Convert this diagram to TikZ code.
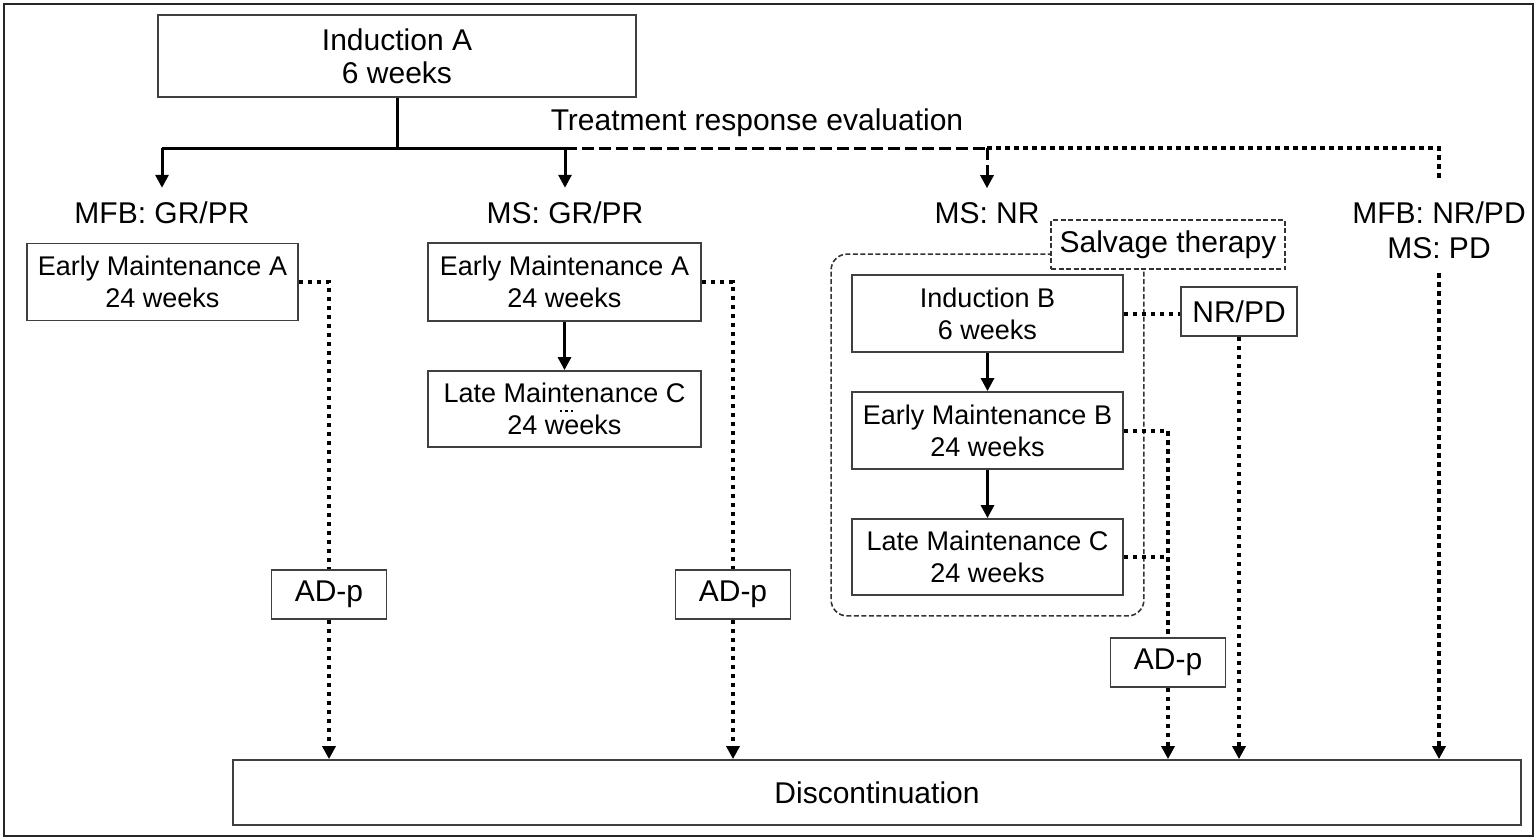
\documentclass[tikz,border=0pt]{standalone}
\usepackage{fontspec}
\setmainfont{Liberation Sans}
\usetikzlibrary{arrows.meta,fit}

\begin{document}
\begin{tikzpicture}[x=1pt,y=-1pt,
    box/.style={draw=black!75, line width=1.8pt, fill=white, align=center, inner sep=0pt, font=\fontsize{27}{32}\selectfont},
    bigbox/.style={box, font=\fontsize{30}{33}\selectfont},
    lab/.style={align=center, inner xsep=2pt, inner ysep=14pt, font=\fontsize{30}{35}\selectfont},
    tip/.style={-{Triangle[width=13pt,length=13pt]}},
    thickline/.style={line width=3pt},
    dashline/.style={line width=3pt, dash pattern=on 12pt off 5pt},
    dotline/.style={line width=4pt, dash pattern=on 4.5pt off 4.5pt},
    grp/.style={draw=black!80, line width=1.6pt, dash pattern=on 5pt off 2.5pt, rounded corners=16pt}]

    \useasboundingbox (0,0) rectangle (1536,839);
    \draw[line width=2.2pt, black!85] (4,4) rectangle (1533,836);

    % first induction and response evaluation
    \node[bigbox, minimum width=478, minimum height=82] (indA) at (397,56) {Induction A\\6 weeks};
    \node[lab, inner ysep=2pt] (eval) at (757,123) {Treatment response evaluation};

    \node[lab] (lab1) at (162,213) {MFB: GR/PR};
    \node[lab] (lab2) at (565,213) {MS: GR/PR};
    \node[lab] (lab3) at (987,213) {MS: NR};
    \node[lab] (lab4) at (1439,230.5) {MFB: NR/PD\\MS: PD};

    \coordinate (j1) at (162,148);
    \coordinate (j2) at (565,148);
    \coordinate (j3) at (987,148);
    \coordinate (j4) at (1439,148);

    \draw[thickline] (indA.south) -- (indA.south |- j1);
    \draw[thickline] (j1) -- (j2);
    \draw[thickline,tip] (j1) -- (lab1);
    \draw[thickline,tip] (j2) -- (lab2);
    \draw[dashline] (j2) -- (j3);
    \draw[dashline,tip] (j3) -- (lab3);
    \draw[dotline] (j3) -- (j4) -- ([yshift=8pt]lab4.north);

    % maintenance boxes
    \node[box, minimum width=271, minimum height=77] (emA1) at (162.5,282) {Early Maintenance A\\24 weeks};
    \node[box, minimum width=273, minimum height=78] (emA2) at (564.5,282) {Early Maintenance A\\24 weeks};
    \node[box, minimum width=273, minimum height=76] (lmC2) at (564.5,409) {Late Maintenance C\\24 weeks};
    \draw[dotline, line width=2.5pt, dash pattern=on 2.5pt off 3pt] ([xshift=-5pt,yshift=-2pt]lmC2.center) -- ++(16,0);

    % salvage therapy
    \node[box, minimum width=271, minimum height=77] (indB) at (987.5,313.5) {Induction B\\6 weeks};
    \node[box, minimum width=271, minimum height=77] (emB) at (987.5,430.5) {Early Maintenance B\\24 weeks};
    \node[box, minimum width=271, minimum height=76] (lmC3) at (987.5,557) {Late Maintenance C\\24 weeks};
    \node[grp, fit=(indB)(emB)(lmC3), inner xsep=20pt, inner ysep=20pt] (salvgrp) {};
    \node[bigbox, draw=black!80, line width=1.6pt, dash pattern=on 5pt off 2.5pt, minimum width=234, minimum height=49] (salv) at (1168,244.5) {Salvage therapy};
    \node[bigbox, minimum width=116, minimum height=49] (nrpd) at (1239,311.5) {NR/PD};

    \draw[thickline,tip] (emA2) -- (lmC2);
    \draw[thickline,tip] (indB) -- (emB);
    \draw[thickline,tip] (emB) -- (lmC3);

    % adverse drug reactions and discontinuation
    \node[bigbox, minimum width=115, minimum height=49] (adp1) at (329,594.5) {AD-p};
    \node[bigbox, minimum width=115, minimum height=49] (adp2) at (733,594.5) {AD-p};
    \node[bigbox, minimum width=115, minimum height=49] (adp3) at (1168,662.5) {AD-p};
    \node[bigbox, minimum width=1288, minimum height=65] (disc) at (877,792.5) {Discontinuation};

    \draw[dotline] (emA1.east) -| (adp1.north);
    \draw[dotline,tip] (adp1.south) -- (adp1.south |- disc.north);
    \draw[dotline] (emA2.east) -| (adp2.north);
    \draw[dotline,tip] (adp2.south) -- (adp2.south |- disc.north);
    \draw[dotline] (indB.east) -- (indB.east -| nrpd.west);
    \draw[dotline,tip] (nrpd.south) -- (nrpd.south |- disc.north);
    \draw[dotline] (emB.east) -| (adp3.north);
    \draw[dotline] (lmC3.east) -- (lmC3.east -| adp3.north);
    \draw[dotline,tip] (adp3.south) -- (adp3.south |- disc.north);
    \draw[dotline,tip] (lab4.south) -- (lab4.south |- disc.north);

\end{tikzpicture}
\end{document}
